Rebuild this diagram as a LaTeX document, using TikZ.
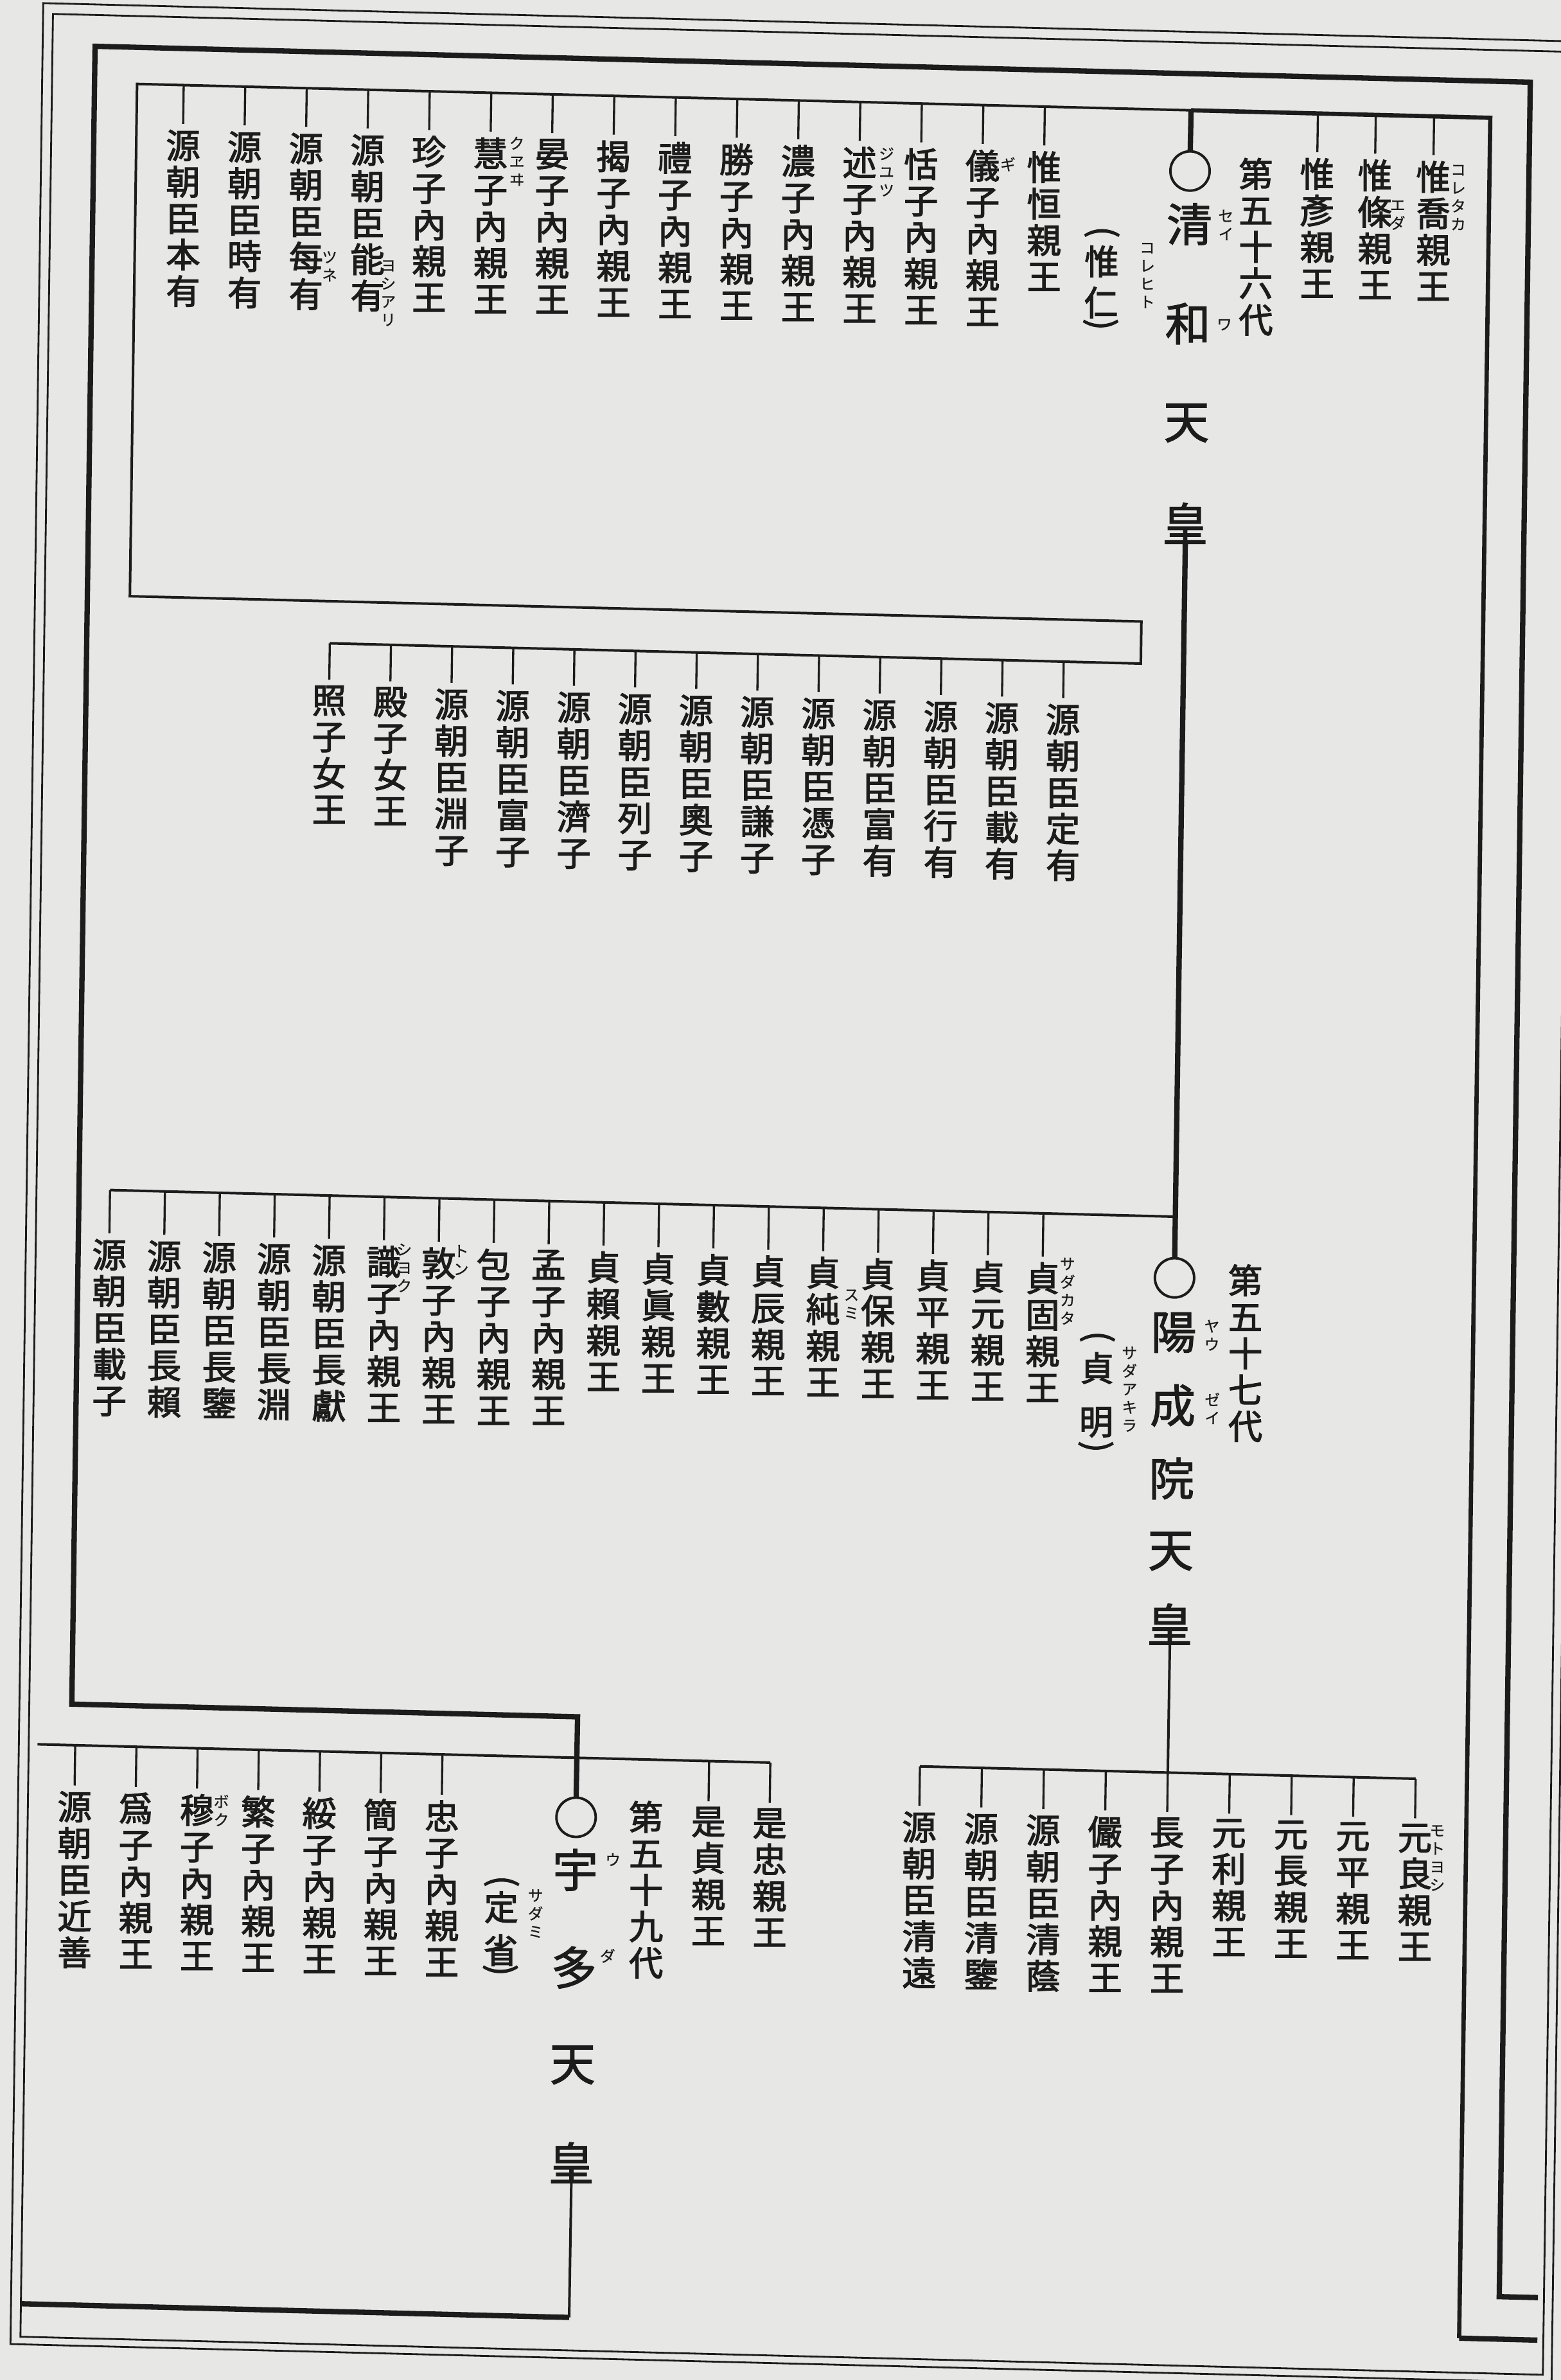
\documentclass[tikz,border=0pt]{standalone}
\usepackage{fontspec}
\newfontfamily\jpf[FakeBold=2.4]{Noto Sans CJK JP}
\newfontfamily\jpb[FakeBold=1.8]{Noto Sans CJK JP}
\newfontfamily\jpr[FakeBold=0.8]{Noto Sans CJK JP}
\definecolor{bgc}{RGB}{231,231,229}
\definecolor{ink}{RGB}{28,28,28}
\makeatletter
\def\vt@end{VTEND}
\def\vt@loop#1{\ifx#1\vt@end\else\hbox to1em{\hss#1\hss}\expandafter\vt@loop\fi}
\newcommand\vt[1]{\vbox{\lineskiplimit=-\maxdimen\expandafter\vt@loop#1\vt@end}}
\makeatother
\tikzset{
  jn/.style={font=\jpf\fontsize{16}{17.07}\selectfont,inner sep=0pt,outer sep=0pt,anchor=north,text=ink},
  jg/.style={font=\jpf\fontsize{16}{17.07}\selectfont,inner sep=0pt,outer sep=0pt,text=ink},
  jb/.style={font=\jpb\fontsize{21.3}{21.3}\selectfont,inner sep=0pt,outer sep=0pt,text=ink},
  jr/.style={font=\jpr\fontsize{7.1}{8.5}\selectfont,inner sep=0pt,outer sep=0pt,anchor=north,text=ink},
  lfrm/.style={draw=ink,line width=0.85pt},
  lthk/.style={draw=ink,line width=2.5pt},
  lmed/.style={draw=ink,line width=2pt},
  lbrk/.style={draw=ink,line width=1.2pt},
  ldrp/.style={draw=ink,line width=1pt,shorten >=1mm},
  prn/.style={jg,rotate=-90},
}
\begin{document}
\begin{tikzpicture}[x=0.025cm,y=-0.025cm]
\fill[bgc] (0,0) rectangle (1028,1567.4);
\useasboundingbox (0,0) rectangle (1028,1567.4);
\clip (0,0) rectangle (1028,1567.4);
\begin{scope}[cm={1,-0.025,0.014,1,(0,0)}]
% page frame
\draw[lfrm] (28.5,1.35) rectangle (1043.4,1543);
\draw[lfrm] (35,8.3) rectangle (1037.6,1538);

% ===== Seiwa =====
\node[jb] (S0) at (785,93) {○};
\node[jb] (S1) at (785,128) {清};
\node[jb] (S2) at (785,193.5) {和};
\node[jb] (S3) at (785,259) {天};
\node[jb] (S4) at (785,325) {皇};
\node[jr] (rS1) at (809,118) {\vt{セイ}};
\node[jr] (rS2) at (809,190) {\vt{ワ}};
\node[jn] (L56) at (828.2,83.4) {\vt{第五十六代}};
\node[prn] (p1a) at (727.6,134.7) {(};
\node[jg] (p1b) at (727.6,154) {惟};
\node[jg] (p1c) at (727.6,181) {仁};
\node[prn] (p1d) at (727.6,195.5) {)};
\node[jr] (rp1) at (757.5,141) {\vt{コレヒト}};

% top block children
\foreach \nI/\nT [evaluate=\nI as \nU using {121.7+40.5*\nI}] in {0/源朝臣本有,1/源朝臣時有,2/源朝臣每有,3/源朝臣能有,4/珍子內親王,5/慧子內親王,6/晏子內親王,7/揭子內親王,8/禮子內親王,9/勝子內親王,10/濃子內親王,11/述子內親王,12/恬子內親王,13/儀子內親王,14/惟恒親王}{
  \node[jn] (a\nI) at (\nU,82.5) {\vt{\nT}};
  \coordinate (ab\nI) at (\nU,53);
  \draw[ldrp] (ab\nI) -- (a\nI.north);
}
\foreach \nI/\nU/\nT in {15/868.5/惟彥親王,16/906.6/惟條親王,17/945/惟喬親王}{
  \node[jn] (a\nI) at (\nU,82.5) {\vt{\nT}};
  \coordinate (ab\nI) at (\nU,53);
  \draw[ldrp] (ab\nI) -- (a\nI.north);
}
\node[jr] (ra17) at (961.5,84.6) {\vt{コレタカ}};
\node[jr] (ra16) at (922,109) {\vt{エダ}};
\node[jr] (ra13) at (665,87) {\vt{ギ}};
\node[jr] (ra11) at (585,82.5) {\vt{ジユツ}};
\node[jr] (ra5) at (341.5,81.5) {\vt{クヱヰ}};
\node[jr] (ra3) at (258,165) {\vt{ヨシアリ}};
\node[jr] (ra2) at (219.3,160) {\vt{ツネ}};

% middle block (continuation)
\foreach \nI/\nT [evaluate=\nI as \nU using {223+40.27*\nI}] in {0/照子女王,1/殿子女王,2/源朝臣淵子,3/源朝臣富子,4/源朝臣濟子,5/源朝臣列子,6/源朝臣奧子,7/源朝臣謙子,8/源朝臣憑子,9/源朝臣富有,10/源朝臣行有,11/源朝臣載有,12/源朝臣定有}{
  \node[jn] (m\nI) at (\nU,446) {\vt{\nT}};
  \coordinate (mb\nI) at (\nU,418);
  \draw[ldrp] (mb\nI) -- (m\nI.north);
}

% ===== Yozei =====
\node[jb] (Y0) at (785,821.9) {○};
\node[jb] (Y1) at (785,858) {陽};
\node[jb] (Y2) at (785,906) {成};
\node[jb] (Y3) at (785,954) {院};
\node[jb] (Y4) at (785,1002) {天};
\node[jb] (Y5) at (785,1050) {皇};
\node[jr] (rY1) at (810,849) {\vt{ヤウ}};
\node[jr] (rY2) at (811,897) {\vt{ゼイ}};
\node[jn] (L57) at (831.5,812) {\vt{第五十七代}};
\node[prn] (p2a) at (734.8,862) {(};
\node[jg] (p2b) at (734.8,882.6) {貞};
\node[jg] (p2c) at (734.8,918.3) {明};
\node[prn] (p2d) at (734.8,934.4) {)};
\node[jr] (rp2) at (756,868) {\vt{サダアキラ}};

% Seiwa's children row
\foreach \nI/\nT [evaluate=\nI as \nU using {83.4+36.15*\nI}] in {0/源朝臣載子,1/源朝臣長賴,2/源朝臣長鑒,3/源朝臣長淵,4/源朝臣長獻,5/識子內親王,6/敦子內親王,7/包子內親王,8/孟子內親王,9/貞賴親王,10/貞眞親王,11/貞數親王,12/貞辰親王,13/貞純親王,14/貞保親王,15/貞平親王,16/貞元親王,17/貞固親王}{
  \node[jn] (c\nI) at (\nU,814) {\vt{\nT}};
  \coordinate (cb\nI) at (\nU,781.5);
  \draw[ldrp] (cb\nI) -- (c\nI.north);
}
\node[jr] (rc17) at (714.4,810.4) {\vt{サダカタ}};
\node[jr] (rc13) at (572.4,835) {\vt{スミ}};
\node[jr] (rc6) at (315,812) {\vt{トン}};
\node[jr] (rc5) at (277.6,812) {\vt{シヨク}};

% Yozei's children
\foreach \nI/\nT [evaluate=\nI as \nU using {621.8+40.8*\nI}] in {0/源朝臣清遠,1/源朝臣清鑒,2/源朝臣清蔭,3/儼子內親王,4/長子內親王,5/元利親王,6/元長親王,7/元平親王,8/元良親王}{
  \node[jn] (d\nI) at (\nU,1177.5) {\vt{\nT}};
  \coordinate (db\nI) at (\nU,1147.5);
  \draw[ldrp] (db\nI) -- (d\nI.north);
}
\node[jr] (rd8) at (963,1178) {\vt{モトヨシ}};

% ===== Uda =====
\node[jb] (U0) at (396,1186.9) {○};
\node[jb] (U1) at (396,1221.5) {宇};
\node[jb] (U2) at (396,1285.8) {多};
\node[jb] (U3) at (396,1350.1) {天};
\node[jb] (U4) at (396,1414.4) {皇};
\node[jr] (rU1) at (420.6,1210) {\vt{ウ}};
\node[jr] (rU2) at (418,1273) {\vt{ダ}};
\node[jn] (L59) at (441.9,1175.1) {\vt{第五十九代}};
\node[prn] (p3a) at (347.6,1230.3) {(};
\node[jg] (p3b) at (347.6,1247.4) {定};
\node[jg] (p3c) at (347.6,1275.7) {省};
\node[prn] (p3d) at (347.6,1288.8) {)};
\node[jr] (rp3) at (370,1235) {\vt{サダミ}};

\foreach \nI/\nT [evaluate=\nI as \nU using {65.6+40.3*\nI}] in {0/源朝臣近善,1/爲子內親王,2/穆子內親王,3/繁子內親王,4/綏子內親王,5/簡子內親王,6/忠子內親王}{
  \node[jn] (e\nI) at (\nU,1178) {\vt{\nT}};
  \coordinate (eb\nI) at (\nU,1147.5);
  \draw[ldrp] (eb\nI) -- (e\nI.north);
}
\foreach \nI/\nU/\nT in {7/483/是貞親王,8/523.3/是忠親王}{
  \node[jn] (e\nI) at (\nU,1178) {\vt{\nT}};
  \coordinate (eb\nI) at (\nU,1147.5);
  \draw[ldrp] (eb\nI) -- (e\nI.north);
}
\node[jr] (re2) at (162.3,1178) {\vt{ボク}};

% ===== connectors =====
\coordinate (A1) at (1033.5,1487);
\coordinate (A2) at (1008,1487);
\coordinate (A3) at (1008,28.9);
\coordinate (A4) at (63,28.9);
\coordinate (A5) at (63,1120.5);
\coordinate (A6) at (396,1120.5);
\draw[lthk] (A1) -- (A2) -- (A3) -- (A4) -- (A5) -- (A6) -- (U0.north);

\coordinate (B1) at (1033.5,1515);
\coordinate (B2) at (982,1515);
\coordinate (B3) at (982,53);
\coordinate (B4) at (785,53);
\draw[lthk] (B1) -- (B2);
\draw[lmed] (B2) -- (B3) -- (B4);
\draw[lthk] (B4) -- (S0.north);

\coordinate (T1) at (91,53);
\coordinate (T2) at (91,390.3);
\coordinate (T3) at (757,390.3);
\coordinate (T4) at (757,418);
\coordinate (T5) at (223,418);
\draw[lbrk] (B4) -- (T1) -- (T2) -- (T3) -- (T4) -- (T5);

\coordinate (C1) at (785,781.5);
\coordinate (C0) at (83.4,781.5);
\draw[lthk] (S4.south) -- (Y0.north);
\draw[lbrk] (C1) -- (C0);

\coordinate (D0) at (621.8,1147.5);
\coordinate (D1) at (785,1147.5);
\coordinate (D2) at (948.2,1147.5);
\draw[lbrk] (Y5.south) -- (D1);
\draw[lbrk] (D0) -- (D2);

\coordinate (E0) at (40.8,1147.5);
\coordinate (E1) at (523.3,1147.5);
\draw[lbrk] (E0) -- (E1);

\coordinate (F1) at (396,1516);
\coordinate (F2) at (35,1516);
\draw[lbrk] (U4.south) -- (F1);
\draw[lthk] (F1) -- (F2);
\end{scope}
\end{tikzpicture}
\end{document}
